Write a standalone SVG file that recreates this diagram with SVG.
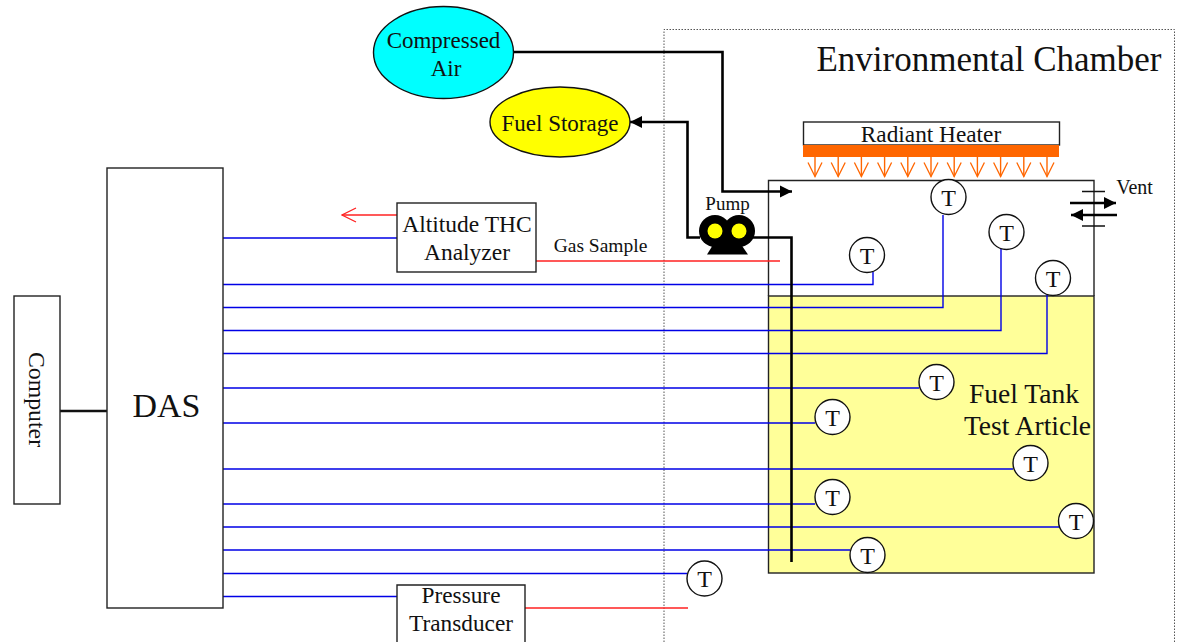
<svg xmlns="http://www.w3.org/2000/svg" width="1179" height="642" viewBox="0 0 1179 642">
<style>
text{font-family:"Liberation Serif","Times New Roman",serif;fill:#111;text-anchor:middle}
.box{fill:#fff;stroke:#222;stroke-width:1.4}
.blue{fill:none;stroke:#0000e6;stroke-width:1.4}
.red{fill:none;stroke:#f22;stroke-width:1.5}
.blk{fill:none;stroke:#000;stroke-width:2.6}
.or{fill:none;stroke:#f60;stroke-width:1.4}
.t{fill:#fff;stroke:#111;stroke-width:1.4}
.tt{font-size:24px}
.l{font-size:23.300px}
</style>
<defs>
<marker id="ah" markerUnits="userSpaceOnUse" markerWidth="14" markerHeight="14" refX="12" refY="7" orient="auto"><path d="M0 1 12 7 0 13z" fill="#000"/></marker>
<marker id="oh" markerUnits="userSpaceOnUse" markerWidth="16" markerHeight="16" refX="15" refY="8" orient="auto"><path d="M1 1 15 8 1 15" fill="none" stroke="#f60" stroke-width="1.3"/></marker>
<marker id="rh" markerUnits="userSpaceOnUse" markerWidth="16" markerHeight="16" refX="15" refY="8" orient="auto"><path d="M1 1 15 8 1 15" fill="none" stroke="#f22" stroke-width="1.3"/></marker>
</defs>
<path id="chamber-outline" d="M664 642V29.500H1174.500V642" fill="none" stroke="#555" stroke-width="1" stroke-dasharray="1.500 1.500"/>
<text x="989" y="70.500" style="font-size:35px">Environmental Chamber</text>
<g id="test-chamber"><path d="M768.500 296V180.500H1094V296" fill="none" stroke="#222" stroke-width="1.400"/></g>
<g id="fuel-tank"><rect x="768.500" y="296" width="325.500" height="277" fill="#ffff99" stroke="#222" stroke-width="1.400"/>
<text x="1024" y="403" style="font-size:27.500px">Fuel Tank</text><text x="1027.500" y="435" style="font-size:27.500px">Test Article</text></g>
<g id="connectors">
<path class="blue" d="M223 238H397M223 284.500H873V272M223 307.500H943V215M223 330.500H1001V249M223 353.500H1047V295M223 388H919M223 423H815M223 469H1013M223 504H815M223 527H1059M223 550H850M223 573.500H687M223 596.500H397"/>
<path class="red" d="M536 261H780M525 608H688"/>
<path class="red" d="M397 215H342" marker-end="url(#rh)"/>
<path class="blk" d="M514 52H722.500V191.500H792" marker-end="url(#ah)"/>
<path class="blk" d="M700 237.500H687.500V122H630" marker-end="url(#ah)"/>
<path class="blk" d="M750 237.500H791.500V562"/>
<path d="M60 411H107" fill="none" stroke="#111" stroke-width="2.500"/>
<path d="M1082 191.500H1105M1082 226H1105" stroke="#111" stroke-width="1.500"/>
<path class="blk" d="M1070 203H1116" marker-end="url(#ah)"/>
<path class="blk" d="M1117 215H1071" marker-end="url(#ah)"/>
</g>
<g id="compressed-air"><ellipse cx="443.500" cy="52.500" rx="70" ry="46" fill="#0ff" stroke="#111" stroke-width="1.400"/><text x="443.500" y="47.500" style="font-size:23px">Compressed</text><text x="446" y="75.500" style="font-size:23px">Air</text></g>
<g id="fuel-storage"><ellipse cx="560" cy="122" rx="70" ry="35" fill="#ff0" stroke="#111" stroke-width="1.400"/><text x="560" y="131" style="font-size:23px">Fuel Storage</text></g>
<g id="das"><rect class="box" x="107" y="168" width="116" height="440"/><text x="166.500" y="417" style="font-size:34px">DAS</text></g>
<g id="computer"><rect class="box" x="14" y="296" width="46" height="208"/><text transform="translate(29 399.500) rotate(90)" style="font-size:23.800px">Computer</text></g>
<g id="analyzer"><rect class="box" x="397" y="203" width="139" height="69"/><text x="467" y="232" style="font-size:23.500px">Altitude THC</text><text x="467" y="260" style="font-size:23.500px">Analyzer</text></g>
<g id="transducer"><path class="box" d="M397 642V585H525V642"/><text x="461" y="603" class="l">Pressure</text><text x="461" y="631" class="l">Transducer</text></g>
<text x="600.500" y="252" style="font-size:19.500px">Gas Sample</text>
<g id="heater"><rect class="box" x="803.500" y="122" width="256" height="23"/><text x="931" y="142" class="l">Radiant Heater</text><rect x="803" y="145" width="256" height="12" fill="#f60"/>
<path class="or" d="M815 157V176.500" marker-end="url(#oh)"/><path class="or" d="M838.200 157V176.500" marker-end="url(#oh)"/><path class="or" d="M861.400 157V176.500" marker-end="url(#oh)"/><path class="or" d="M884.600 157V176.500" marker-end="url(#oh)"/><path class="or" d="M907.800 157V176.500" marker-end="url(#oh)"/><path class="or" d="M931 157V176.500" marker-end="url(#oh)"/><path class="or" d="M954.200 157V176.500" marker-end="url(#oh)"/><path class="or" d="M977.400 157V176.500" marker-end="url(#oh)"/><path class="or" d="M1000.600 157V176.500" marker-end="url(#oh)"/><path class="or" d="M1023.800 157V176.500" marker-end="url(#oh)"/><path class="or" d="M1047 157V176.500" marker-end="url(#oh)"/></g>
<g id="pump"><circle cx="715" cy="231" r="16"/><circle cx="739" cy="231" r="16"/><path d="M716 240H738L748 254.500H707z"/><circle cx="715" cy="231" r="7.500" fill="#ff0"/><circle cx="739" cy="231" r="7.500" fill="#ff0"/><text x="727.500" y="210" style="font-size:19px">Pump</text></g>
<text id="vent" x="1134.500" y="194" style="font-size:20px">Vent</text>
<g id="t1"><circle class="t" cx="948.500" cy="197" r="17.500"/><text class="tt" x="948.500" y="205.500">T</text></g>
<g id="t2"><circle class="t" cx="1006.500" cy="232" r="17.500"/><text class="tt" x="1006.500" y="240.500">T</text></g>
<g id="t3"><circle class="t" cx="867" cy="255" r="17.500"/><text class="tt" x="867" y="263.500">T</text></g>
<g id="t4"><circle class="t" cx="1053" cy="278" r="17.500"/><text class="tt" x="1053" y="286.500">T</text></g>
<g id="t5"><circle class="t" cx="936.500" cy="382" r="17.500"/><text class="tt" x="936.500" y="390.500">T</text></g>
<g id="t6"><circle class="t" cx="832.500" cy="417" r="17.500"/><text class="tt" x="832.500" y="425.500">T</text></g>
<g id="t7"><circle class="t" cx="1030.500" cy="463" r="17.500"/><text class="tt" x="1030.500" y="471.500">T</text></g>
<g id="t8"><circle class="t" cx="832.500" cy="497" r="17.500"/><text class="tt" x="832.500" y="505.500">T</text></g>
<g id="t9"><circle class="t" cx="1076" cy="521" r="17.500"/><text class="tt" x="1076" y="529.500">T</text></g>
<g id="t10"><circle class="t" cx="867.500" cy="555" r="17.500"/><text class="tt" x="867.500" y="563.500">T</text></g>
<g id="t11"><circle class="t" cx="704.500" cy="578.500" r="17.500"/><text class="tt" x="704.500" y="587">T</text></g>
</svg>
